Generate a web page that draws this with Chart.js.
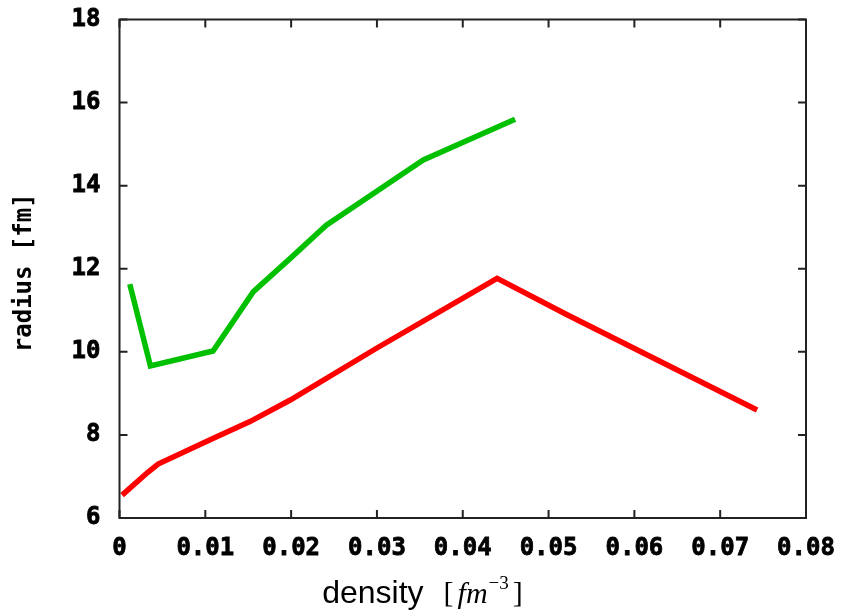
<!DOCTYPE html>
<html>
<head>
<meta charset="utf-8">
<script src="https://cdn.jsdelivr.net/npm/chart.js@4"></script>
<style>
  html, body { margin: 0; padding: 0; background: #fff; }
  #wrap { width: 847px; height: 612px; }
</style>
</head>
<body>
<div id="wrap"><canvas id="chart" width="847" height="612"></canvas></div>
<script>
// values
const redDensity = [0.0003, 0.0033, 0.0045, 0.0105, 0.0152, 0.0199, 0.0299, 0.0440, 0.0521, 0.0743];
const redRadius = [6.55, 7.10, 7.30, 7.88, 8.32, 8.84, 10.08, 11.77, 10.90, 8.60];
const greenDensity = [0.0012, 0.0036, 0.0109, 0.0156, 0.0199, 0.0241, 0.0354, 0.0461];
const greenRadius = [11.63, 9.66, 10.02, 11.45, 12.25, 13.05, 14.62, 15.60];
const xTicks = [0, 0.01, 0.02, 0.03, 0.04, 0.05, 0.06, 0.07, 0.08];
const yTicks = [6, 8, 10, 12, 14, 16, 18];

const tickFont = { family: "'DejaVu Sans Mono'", size: 24, weight: 'bold' };
const axisColor = '#222';

function toPoints(xs, ys) {
  return xs.map((x, i) => ({ x: x, y: ys[i] }));
}

// frame with inward ticks on all four sides, gnuplot style
const framePlugin = {
  id: 'frame',
  afterDatasetsDraw(chart) {
    const ctx = chart.ctx;
    const a = chart.chartArea;
    const xs = chart.scales.x, ys = chart.scales.y;
    const len = 8;
    ctx.save();
    ctx.strokeStyle = axisColor;
    ctx.lineWidth = 2;
    ctx.beginPath();
    xTicks.forEach(v => {
      const px = xs.getPixelForValue(v);
      ctx.moveTo(px, a.bottom); ctx.lineTo(px, a.bottom - len);
      ctx.moveTo(px, a.top); ctx.lineTo(px, a.top + len);
    });
    yTicks.forEach(v => {
      const py = ys.getPixelForValue(v);
      ctx.moveTo(a.left, py); ctx.lineTo(a.left + len, py);
      ctx.moveTo(a.right, py); ctx.lineTo(a.right - len, py);
    });
    ctx.stroke();
    ctx.strokeRect(a.left, a.top, a.right - a.left, a.bottom - a.top);
    ctx.restore();
  }
};

// axis titles: y in the mono font, x with the math part in serif
const titlePlugin = {
  id: 'titles',
  afterDraw(chart) {
    const ctx = chart.ctx;
    const a = chart.chartArea;
    ctx.save();
    ctx.fillStyle = '#000';

    ctx.translate(25, (a.top + a.bottom) / 2 + 4);
    ctx.rotate(-Math.PI / 2);
    ctx.font = "bold 24px 'DejaVu Sans Mono'";
    ctx.textAlign = 'center';
    ctx.textBaseline = 'middle';
    ctx.fillText('radius [fm]', 0, 0);
    ctx.setTransform(1, 0, 0, 1, 0, 0);

    const parts = [
      { t: 'density', f: "32px 'Liberation Sans'", dy: 0, gap: 20 },
      { t: '[', f: "30px 'Liberation Serif'", dy: -1, gap: 4 },
      { t: 'fm', f: "italic 30px 'Liberation Serif'", dy: 0, gap: 1 },
      { t: '\u22123', f: "19px 'Liberation Serif'", dy: -14, gap: 4 },
      { t: ']', f: "30px 'Liberation Serif'", dy: -1, gap: 0 }
    ];
    ctx.textAlign = 'left';
    ctx.textBaseline = 'alphabetic';
    let total = 0;
    parts.forEach(p => { ctx.font = p.f; p.w = ctx.measureText(p.t).width; total += p.w + p.gap; });
    let x = chart.width / 2 - total / 2 - 1;
    const base = 603;
    parts.forEach(p => {
      ctx.font = p.f;
      ctx.fillText(p.t, x, base + p.dy);
      x += p.w + p.gap;
    });
    ctx.restore();
  }
};

const chart = new Chart(document.getElementById('chart').getContext('2d'), {
  type: 'scatter',
  data: {
    datasets: [
      {
        label: 'red',
        data: toPoints(redDensity, redRadius),
        showLine: true,
        borderColor: '#ff0000',
        backgroundColor: '#ff0000',
        borderWidth: 5.5,
        pointRadius: 0,
        tension: 0
      },
      {
        label: 'green',
        data: toPoints(greenDensity, greenRadius),
        showLine: true,
        borderColor: '#00c000',
        backgroundColor: '#00c000',
        borderWidth: 5.5,
        pointRadius: 0,
        tension: 0
      }
    ]
  },
  options: {
    responsive: false,
    animation: false,
    layout: { padding: { left: 0, right: 41, top: 19.5, bottom: 0 } },
    plugins: {
      legend: { display: false },
      tooltip: { enabled: false }
    },
    scales: {
      x: {
        type: 'linear',
        min: 0,
        max: 0.08,
        afterBuildTicks: s => { s.ticks = xTicks.map(v => ({ value: v })); },
        afterFit: s => { s.height = 94; s.paddingLeft = 0; s.paddingRight = 0; },
        grid: { display: false, drawTicks: false },
        border: { display: false },
        ticks: {
          color: '#000',
          font: tickFont,
          textStrokeColor: '#000',
          textStrokeWidth: 0.8,
          padding: 16,
          maxRotation: 0,
          callback: v => (v === 0 ? '0' : v.toFixed(2))
        }
      },
      y: {
        type: 'linear',
        min: 6,
        max: 18,
        afterBuildTicks: s => { s.ticks = yTicks.map(v => ({ value: v })); },
        afterFit: s => { s.width = 119.5; s.paddingTop = 0; s.paddingBottom = 0; },
        grid: { display: false, drawTicks: false },
        border: { display: false },
        ticks: {
          color: '#000',
          font: tickFont,
          textStrokeColor: '#000',
          textStrokeWidth: 0.8,
          padding: 19,
          callback: v => String(v)
        }
      }
    }
  },
  plugins: [framePlugin, titlePlugin]
});
</script>
</body>
</html>
